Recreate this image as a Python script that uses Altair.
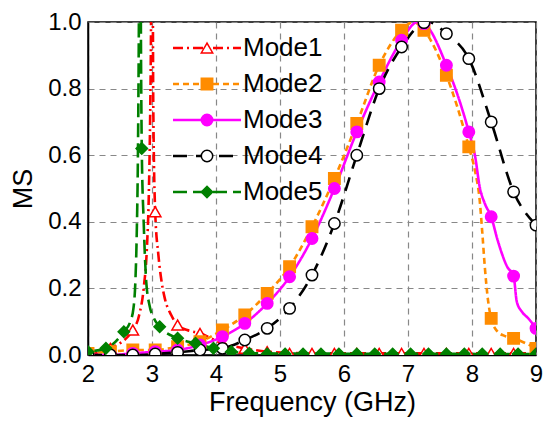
import altair as alt
import pandas as pd

modes = ["Mode1", "Mode2", "Mode3", "Mode4", "Mode5"]
line_colors = ["#ff0000", "#ff8c00", "#ff00ff", "#000000", "#008000"]
fill_colors = ["#ffffff", "#ff8c00", "#ff00ff", "#ffffff", "#008000"]
shapes = ["triangle-up", "square", "circle", "circle", "diamond"]
dashes = [[10, 4, 2, 4], [6, 4], [1, 0], [14, 9], [14, 6]]
x_ticks = [2, 3, 4, 5, 6, 7, 8, 9]
y_ticks = [0.0, 0.2, 0.4, 0.6, 0.8, 1.0]

# ---- curves ----
m1_x = [2.0, 2.35, 2.7, 2.8, 2.87, 2.92, 2.95, 2.97, 2.985, 2.995, 3.005, 3.02, 3.05, 3.1,
        3.15, 3.2, 3.3, 3.4, 3.55, 3.75, 4.1, 4.45, 4.8, 5.5, 9.0]
m1_y = [0.0, 0.02, 0.075, 0.12, 0.2, 0.32, 0.48, 0.7, 1.0, 1.4, 1.4, 0.75, 0.43, 0.3,
        0.22, 0.17, 0.12, 0.09, 0.075, 0.065, 0.035, 0.02, 0.01, 0.005, 0.005]

m2_x = [2.0, 2.35, 2.7, 3.05, 3.4, 3.75, 4.1, 4.45, 4.8, 5.15, 5.5, 5.85, 6.2, 6.55, 6.9,
        7.08, 7.25, 7.6, 7.95, 8.05, 8.12, 8.16, 8.2, 8.25, 8.3, 8.4, 8.5, 8.65, 9.0]
m2_y = [0.005, 0.01, 0.015, 0.015, 0.025, 0.04, 0.075, 0.12, 0.185, 0.265, 0.385, 0.53, 0.695,
        0.87, 0.975, 1.0, 0.975, 0.84, 0.625, 0.55, 0.465, 0.37, 0.265, 0.165, 0.11, 0.07,
        0.058, 0.05, 0.02]

m3_x = [2.0, 2.35, 2.7, 3.05, 3.4, 3.75, 4.1, 4.45, 4.8, 5.15, 5.5, 5.85, 6.2, 6.55, 6.9,
        7.15, 7.25, 7.6, 7.95, 8.05, 8.12, 8.2, 8.3, 8.4, 8.55, 8.65, 8.7, 8.78, 8.88, 9.0]
m3_y = [0.0, 0.0, 0.005, 0.01, 0.015, 0.03, 0.055, 0.095, 0.155, 0.235, 0.35, 0.5, 0.67,
        0.82, 0.945, 1.0, 0.995, 0.87, 0.67, 0.595, 0.505, 0.455, 0.415, 0.345, 0.265, 0.237,
        0.16, 0.13, 0.11, 0.08]

m4_x = [2.0, 2.35, 2.7, 3.05, 3.4, 3.75, 4.1, 4.45, 4.8, 5.15, 5.5, 5.85, 6.2, 6.55, 6.9,
        7.25, 7.32, 7.6, 7.95, 8.3, 8.65, 9.0]
m4_y = [0.0, 0.0, 0.0, 0.003, 0.008, 0.015, 0.02, 0.045, 0.08, 0.14, 0.24, 0.395, 0.6, 0.8,
        0.925, 0.998, 1.0, 0.965, 0.89, 0.7, 0.49, 0.39]

m5_x = [2.0, 2.28, 2.56, 2.66, 2.71, 2.74, 2.76, 2.78, 2.795, 2.805, 2.815, 2.83, 2.84, 2.87,
        2.91, 2.96, 3.03, 3.12, 3.4, 3.68, 3.96, 4.24, 4.52, 9.0]
m5_y = [0.01, 0.02, 0.07, 0.1, 0.14, 0.22, 0.35, 0.6, 1.0, 1.4, 1.4, 0.85, 0.62, 0.4,
        0.22, 0.15, 0.11, 0.085, 0.05, 0.035, 0.02, 0.01, 0.005, 0.003]

# ---- markers ----
p1_x = [2.0, 2.35, 2.7, 3.05, 3.4, 3.75, 4.1, 4.45, 4.8, 5.15, 5.5, 5.85, 6.2, 6.55, 6.9,
        7.25, 7.6, 7.95, 8.3, 8.65, 9.0]
p1_y = [0.0, 0.02, 0.075, 0.43, 0.09, 0.065, 0.035, 0.02, 0.01, 0.005, 0.005, 0.005, 0.005,
        0.005, 0.005, 0.005, 0.005, 0.005, 0.005, 0.005, 0.005]
p2_x = [2.0, 2.35, 2.7, 3.05, 3.4, 3.75, 4.1, 4.45, 4.8, 5.15, 5.5, 5.85, 6.2, 6.55, 6.9,
        7.25, 7.6, 7.95, 8.3, 8.65, 9.0]
p2_y = [0.005, 0.01, 0.015, 0.015, 0.025, 0.04, 0.075, 0.12, 0.185, 0.265, 0.385, 0.53, 0.695,
        0.87, 0.975, 0.975, 0.84, 0.625, 0.11, 0.05, 0.02]
p3_x = [2.0, 2.35, 2.7, 3.05, 3.4, 3.75, 4.1, 4.45, 4.8, 5.15, 5.5, 5.85, 6.2, 6.55, 6.9,
        7.25, 7.6, 7.95, 8.3, 8.65, 9.0]
p3_y = [0.0, 0.0, 0.005, 0.01, 0.015, 0.03, 0.055, 0.095, 0.155, 0.235, 0.35, 0.5, 0.67,
        0.82, 0.945, 0.995, 0.87, 0.67, 0.415, 0.237, 0.08]
p4_x = [2.0, 2.35, 2.7, 3.05, 3.4, 3.75, 4.1, 4.45, 4.8, 5.15, 5.5, 5.85, 6.2, 6.55, 6.9,
        7.25, 7.6, 7.95, 8.3, 8.65, 9.0]
p4_y = [0.0, 0.0, 0.0, 0.003, 0.008, 0.015, 0.02, 0.045, 0.08, 0.14, 0.24, 0.395, 0.6, 0.8,
        0.925, 0.998, 0.965, 0.89, 0.7, 0.49, 0.39]
p5_x = [2.0, 2.28, 2.56, 2.84, 3.12, 3.4, 3.68, 3.96, 4.24, 4.52, 4.8, 5.08, 5.36, 5.64,
        5.92, 6.2, 6.48, 6.76, 7.04, 7.32, 7.6, 7.88, 8.16, 8.44, 8.72, 9.0]
p5_y = [0.01, 0.02, 0.07, 0.62, 0.085, 0.05, 0.035, 0.02, 0.01, 0.005, 0.003, 0.003, 0.003,
        0.003, 0.003, 0.003, 0.003, 0.003, 0.003, 0.003, 0.003, 0.003, 0.003, 0.003, 0.003,
        0.003]

curves = [(m1_x, m1_y), (m2_x, m2_y), (m3_x, m3_y), (m4_x, m4_y), (m5_x, m5_y)]
marks = [(p1_x, p1_y), (p2_x, p2_y), (p3_x, p3_y), (p4_x, p4_y), (p5_x, p5_y)]

line_rows = []
for i, (xs, ys) in enumerate(curves):
    for j, (a, b) in enumerate(zip(xs, ys)):
        line_rows.append({"mode": modes[i], "f": a, "ms": b, "o": j})
pt_rows = []
for i, (xs, ys) in enumerate(marks):
    for a, b in zip(xs, ys):
        pt_rows.append({"m2": modes[i], "f": a, "ms": b})
line_df = pd.DataFrame(line_rows)
pt_df = pd.DataFrame(pt_rows)

FONT = "Liberation Sans"

xenc = alt.X("f:Q", scale=alt.Scale(domain=[2, 9], nice=False),
             axis=alt.Axis(title="Frequency (GHz)", values=x_ticks, format="d", labelFlush=False))
yenc = alt.Y("ms:Q", scale=alt.Scale(domain=[0, 1], nice=False),
             axis=alt.Axis(title="MS", values=y_ticks, format=".1f", labelFlush=False))

line_leg = dict(orient="none", legendX=106, legendY=13, title=None,
                symbolType="M-6.8,0L6.8,0", symbolSize=100, symbolStrokeWidth=2.6,
                labelFontSize=26, labelFont=FONT, labelColor="#000000", rowPadding=10,
                labelOffset=23, padding=0)
pt_leg = dict(orient="none", legendX=106, legendY=13, title=None,
              symbolSize=130, symbolStrokeWidth=1.5, symbolOpacity=1,
              labelFontSize=26, labelFont=FONT, labelExpr="''", rowPadding=10,
              labelOffset=10, padding=0)

lines = alt.Chart(line_df).mark_line(clip=True, strokeWidth=2.6, interpolate="monotone").encode(
    x=xenc, y=yenc, order="o:Q",
    color=alt.Color("mode:N", scale=alt.Scale(range=line_colors), legend=alt.Legend(**line_leg)),
    strokeDash=alt.StrokeDash("mode:N", scale=alt.Scale(range=dashes), legend=alt.Legend(**line_leg)),
)

points = alt.Chart(pt_df).mark_point(clip=True, filled=True, opacity=1, strokeWidth=1.5, size=130).encode(
    x=xenc, y=yenc,
    shape=alt.Shape("m2:N", scale=alt.Scale(range=shapes), legend=alt.Legend(**pt_leg)),
    fill=alt.Fill("m2:N", scale=alt.Scale(range=fill_colors), legend=alt.Legend(**pt_leg)),
    stroke=alt.Stroke("m2:N", scale=alt.Scale(range=line_colors), legend=alt.Legend(**pt_leg)),
)

chart = alt.layer(lines, points).properties(
    width=448, height=333,
    autosize=alt.AutoSizeParams(type="none"),
    padding={"left": 80, "top": 14, "right": 10, "bottom": 68},
).configure_view(stroke="#000000", strokeWidth=1.5).configure_axis(
    labelFont=FONT, titleFont=FONT, labelFontSize=24, titleFontSize=27,
    labelColor="#000000", titleColor="#000000", titleFontWeight="normal",
    grid=True, gridColor="#888888", gridDash=[6, 5], gridWidth=1.2,
    domainColor="#000000", domainWidth=1.5, ticks=False,
).configure_axisX(labelPadding=7, titlePadding=3).configure_axisY(labelPadding=7, titlePadding=10)

chart.save("out.html", embed_options={"renderer": "svg", "actions": False})
